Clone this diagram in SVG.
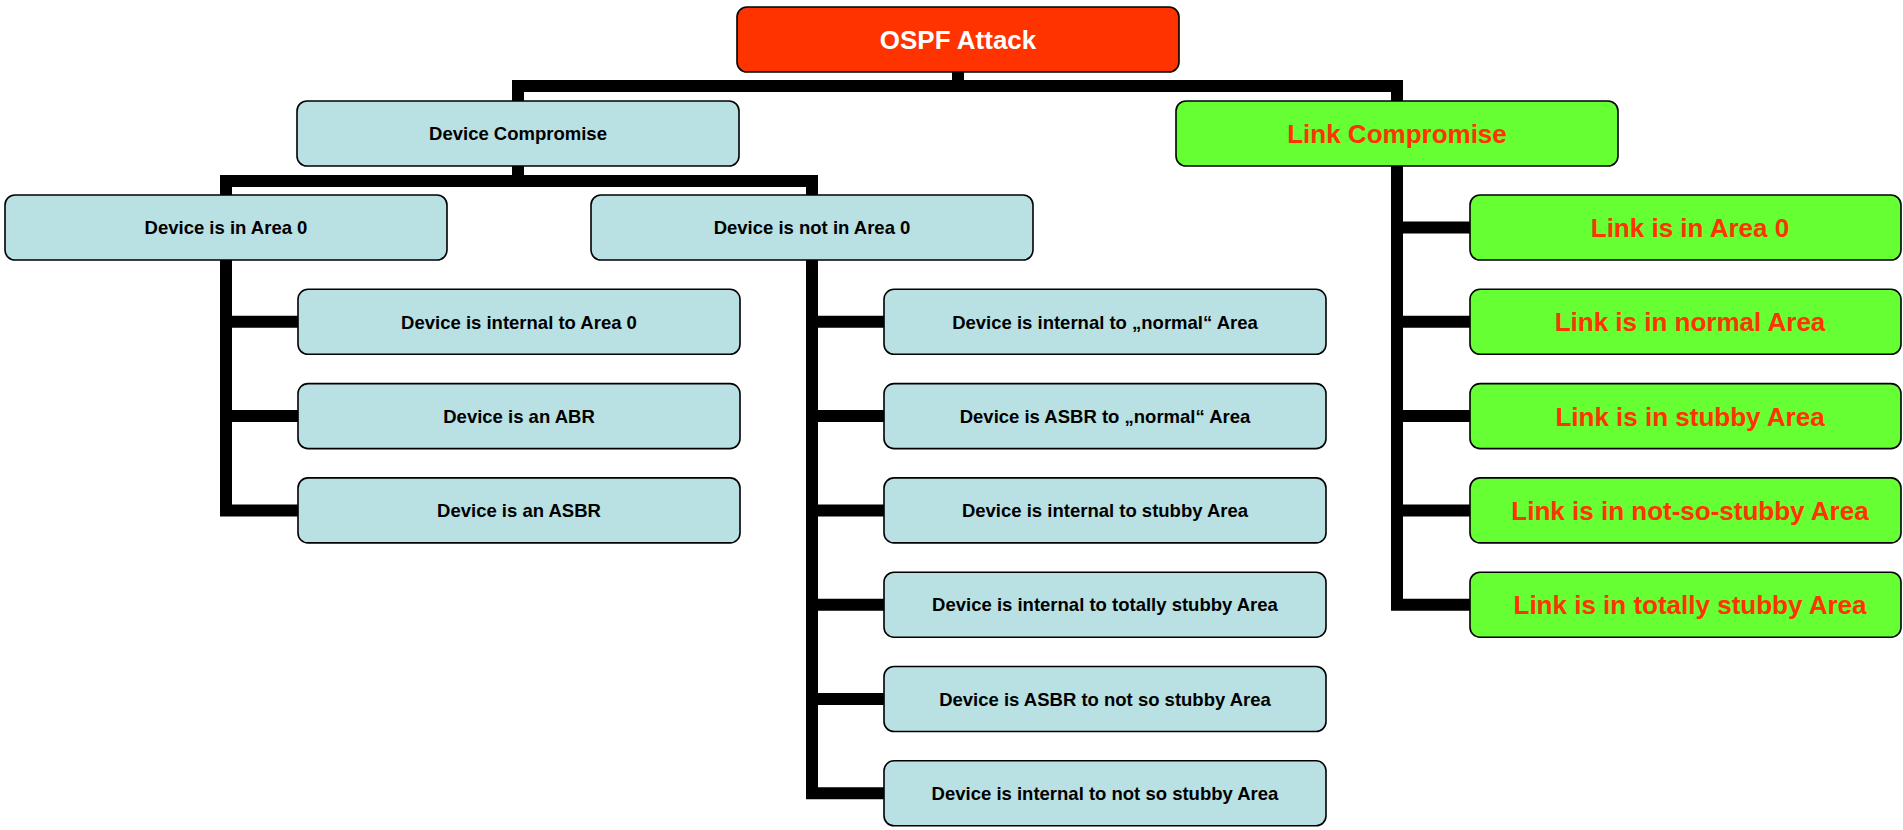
<svg xmlns="http://www.w3.org/2000/svg" width="1903" height="830" viewBox="0 0 1903 830">
  <style>
    .box { stroke: #000; stroke-width: 1.6; }
    .dev { fill: #B9E0E3; }
    .link { fill: #66FF33; }
    .root { fill: #FF3300; }
    .t { font-family: "Liberation Sans", Arial, sans-serif; font-weight: bold; text-anchor: middle; }
    .ts { font-size: 18.5px; fill: #000; }
    .tl { font-size: 26px; fill: #FF3300; }
    .tw { font-size: 26px; fill: #FFFFFF; }
    .wire { fill: none; stroke: #000; stroke-width: 12; stroke-linejoin: miter; stroke-linecap: butt; }
  </style>

  <!-- tree connectors -->
  <g id="connectors">
    <path class="wire" d="M958,72 V86"/>
    <path class="wire" d="M518,101 V86 H1397 V101"/>
    <path class="wire" d="M518,166 V181"/>
    <path class="wire" d="M226,195 V181 H812 V195"/>
    <!-- Device is in Area 0 branch -->
    <path class="wire" d="M226,260 V510.4 H298"/>
    <path class="wire" d="M226,321.8 H298"/>
    <path class="wire" d="M226,416.1 H298"/>
    <!-- Device is not in Area 0 branch -->
    <path class="wire" d="M812,260 V793.3 H884"/>
    <path class="wire" d="M812,321.8 H884"/>
    <path class="wire" d="M812,416.1 H884"/>
    <path class="wire" d="M812,510.4 H884"/>
    <path class="wire" d="M812,604.7 H884"/>
    <path class="wire" d="M812,699 H884"/>
    <!-- Link Compromise branch -->
    <path class="wire" d="M1397,166 V604.7 H1470"/>
    <path class="wire" d="M1397,227.5 H1470"/>
    <path class="wire" d="M1397,321.8 H1470"/>
    <path class="wire" d="M1397,416.1 H1470"/>
    <path class="wire" d="M1397,510.4 H1470"/>
  </g>

  <g id="ospf-attack">
    <rect class="box root" x="737" y="7" width="442" height="65" rx="10"/>
    <text class="t tw" x="958" y="49">OSPF Attack</text>
  </g>

  <g id="device-compromise">
    <rect class="box dev" x="297" y="101" width="442" height="65" rx="10"/>
    <text class="t ts" x="518" y="140">Device Compromise</text>
  </g>

  <g id="link-compromise">
    <rect class="box link" x="1176" y="101" width="442" height="65" rx="10"/>
    <text class="t tl" x="1397" y="143">Link Compromise</text>
  </g>

  <g id="device-in-area0">
    <rect class="box dev" x="5" y="195" width="442" height="65" rx="10"/>
    <text class="t ts" x="226" y="234">Device is in Area 0</text>
  </g>

  <g id="device-not-in-area0">
    <rect class="box dev" x="591" y="195" width="442" height="65" rx="10"/>
    <text class="t ts" x="812" y="234">Device is not in Area 0</text>
  </g>

  <g id="dev-internal-area0">
    <rect class="box dev" x="298" y="289.3" width="442" height="65" rx="10"/>
    <text class="t ts" x="519" y="328.5">Device is internal to Area 0</text>
  </g>
  <g id="dev-abr">
    <rect class="box dev" x="298" y="383.6" width="442" height="65" rx="10"/>
    <text class="t ts" x="519" y="422.8">Device is an ABR</text>
  </g>
  <g id="dev-asbr">
    <rect class="box dev" x="298" y="477.9" width="442" height="65" rx="10"/>
    <text class="t ts" x="519" y="517.1">Device is an ASBR</text>
  </g>

  <g id="dev-internal-normal">
    <rect class="box dev" x="884" y="289.3" width="442" height="65" rx="10"/>
    <text class="t ts" x="1105" y="328.5">Device is internal to „normal“ Area</text>
  </g>
  <g id="dev-asbr-normal">
    <rect class="box dev" x="884" y="383.6" width="442" height="65" rx="10"/>
    <text class="t ts" x="1105" y="422.8">Device is ASBR to „normal“ Area</text>
  </g>
  <g id="dev-internal-stubby">
    <rect class="box dev" x="884" y="477.9" width="442" height="65" rx="10"/>
    <text class="t ts" x="1105" y="517.1">Device is internal to stubby Area</text>
  </g>
  <g id="dev-internal-totally-stubby">
    <rect class="box dev" x="884" y="572.2" width="442" height="65" rx="10"/>
    <text class="t ts" x="1105" y="611.4">Device is internal to totally stubby Area</text>
  </g>
  <g id="dev-asbr-nssa">
    <rect class="box dev" x="884" y="666.5" width="442" height="65" rx="10"/>
    <text class="t ts" x="1105" y="705.7">Device is ASBR to not so stubby Area</text>
  </g>
  <g id="dev-internal-nssa">
    <rect class="box dev" x="884" y="760.8" width="442" height="65" rx="10"/>
    <text class="t ts" x="1105" y="800">Device is internal to not so stubby Area</text>
  </g>

  <g id="link-area0">
    <rect class="box link" x="1470" y="195" width="431" height="65" rx="10"/>
    <text class="t tl" x="1690" y="237">Link is in Area 0</text>
  </g>
  <g id="link-normal">
    <rect class="box link" x="1470" y="289.3" width="431" height="65" rx="10"/>
    <text class="t tl" x="1690" y="331.3">Link is in normal Area</text>
  </g>
  <g id="link-stubby">
    <rect class="box link" x="1470" y="383.6" width="431" height="65" rx="10"/>
    <text class="t tl" x="1690" y="425.6">Link is in stubby Area</text>
  </g>
  <g id="link-nssa">
    <rect class="box link" x="1470" y="477.9" width="431" height="65" rx="10"/>
    <text class="t tl" x="1690" y="519.9">Link is in not-so-stubby Area</text>
  </g>
  <g id="link-totally-stubby">
    <rect class="box link" x="1470" y="572.2" width="431" height="65" rx="10"/>
    <text class="t tl" x="1690" y="614.2">Link is in totally stubby Area</text>
  </g>
</svg>
